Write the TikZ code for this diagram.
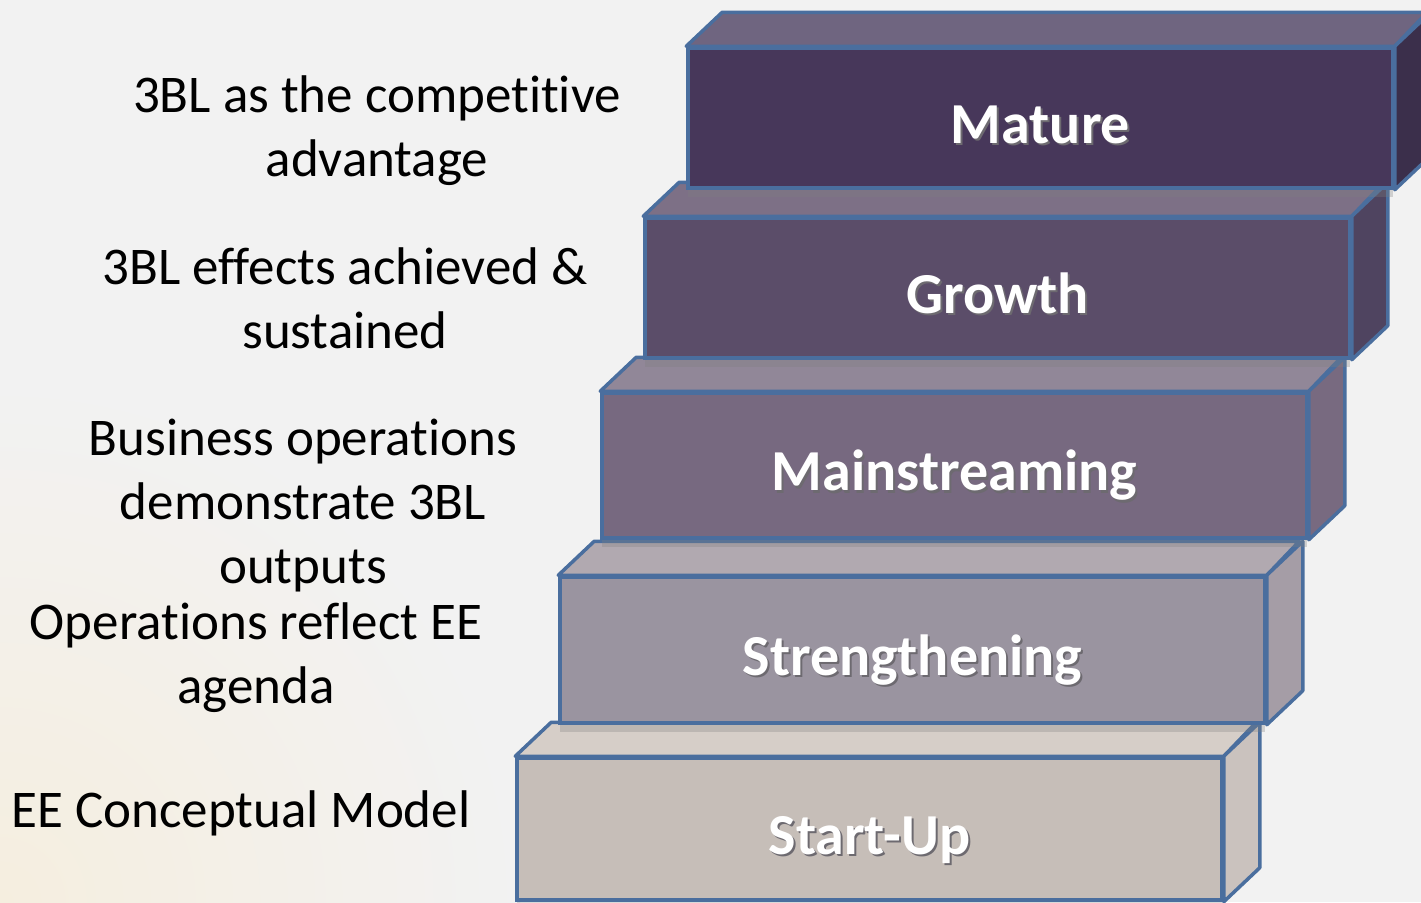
\documentclass[tikz,border=0pt]{standalone}
\usepackage{fontspec}
\setmainfont{Carlito}[Ligatures={TeX,NoCommon}]
\usepackage{tikz}
\usetikzlibrary{shadows}

\definecolor{bgGray}{HTML}{F2F2F2}
\definecolor{bgWarm}{HTML}{F5EEDF}
\definecolor{stepEdge}{HTML}{4A6E9E}
\definecolor{labelShadow}{HTML}{2E2A33}
\definecolor{matureFront}{HTML}{47375A}
\definecolor{matureTop}{HTML}{6F6580}
\definecolor{matureSide}{HTML}{3B2F4B}
\definecolor{growthFront}{HTML}{5B4D69}
\definecolor{growthTop}{HTML}{7D7086}
\definecolor{growthSide}{HTML}{4F4460}
\definecolor{mainFront}{HTML}{776980}
\definecolor{mainTop}{HTML}{918798}
\definecolor{mainSide}{HTML}{786A80}
\definecolor{strengthFront}{HTML}{9A94A0}
\definecolor{strengthTop}{HTML}{B1A9B0}
\definecolor{strengthSide}{HTML}{A59DA6}
\definecolor{startFront}{HTML}{C6BEB8}
\definecolor{startTop}{HTML}{D6CEC8}
\definecolor{startSide}{HTML}{CAC2BE}

\tikzstyle{stepFront} = [draw=stepEdge, line width=3.5pt, minimum width=705pt,
   inner sep=0pt, text=white, font=\fontsize{58}{70}\selectfont\bfseries,
   text height=60pt, text depth=10pt,
   drop shadow={shadow xshift=0pt, shadow yshift=-9pt, opacity=0.3}]
\tikzstyle{stepFace} = [draw=stepEdge, line width=3.5pt, line join=round]
\tikzstyle{stepNote} = [align=center, inner sep=0pt, text=black,
   font=\fontsize{53}{64}\selectfont]

\newcommand{\shadowed}[1]{\makebox[0pt][l]{\kern2pt\raisebox{-2.5pt}{\textcolor{labelShadow!70}{#1}}}#1}
\newcommand{\stepfaces}[3]{%
  \draw[stepFace, fill=#2] (#1.north west) -- ++(36,-34) -- ++(705,0) -- (#1.north east) -- cycle;
  \draw[stepFace, fill=#3] (#1.north east) -- ++(36,-34) -- ([shift={(36,-34)}]#1.south east) -- (#1.south east) -- cycle;}

\begin{document}
\begin{tikzpicture}[x=1pt, y=-1pt]
  \useasboundingbox (0,0) rectangle (1421,902);
  \clip (0,0) rectangle (1421,902);
  \fill[bgGray] (0,0) rectangle (1421,902);
  \shade[inner color=bgWarm, outer color=bgGray] (0,902) circle (520);

  % steps, from the bottom one up
  \node[stepFront, fill=startFront, minimum height=142pt] (startup) at (869.5,829) {\shadowed{Start-Up}};
  \stepfaces{startup}{startTop}{startSide}
  \node[stepFront, fill=strengthFront, minimum height=146pt] (strengthening) at (912.5,650) {\shadowed{Strengthening}};
  \stepfaces{strengthening}{strengthTop}{strengthSide}
  \node[stepFront, fill=mainFront, minimum height=145pt] (mainstreaming) at (954.5,465.5) {\shadowed{Mainstreaming}};
  \stepfaces{mainstreaming}{mainTop}{mainSide}
  \node[stepFront, fill=growthFront, minimum height=140pt] (growth) at (997.5,288) {\shadowed{Growth}};
  \stepfaces{growth}{growthTop}{growthSide}
  \node[stepFront, fill=matureFront, minimum height=140pt] (mature) at (1040.5,118) {\shadowed{Mature}};
  \stepfaces{mature}{matureTop}{matureSide}

  % notes on the left
  \node[stepNote] (matureNote) at (377,131) {3BL as the competitive\\advantage};
  \node[stepNote] (growthNote) at (345,298) {3BL effects achieved \&\\sustained};
  \node[stepNote] (mainNote) at (303,506) {Business operations\\demonstrate 3BL\\outputs};
  \node[stepNote] (strengthNote) at (256,658) {Operations reflect EE\\agenda};
  \node[stepNote] (startNote) at (241,813) {EE Conceptual Model};
\end{tikzpicture}
\end{document}
